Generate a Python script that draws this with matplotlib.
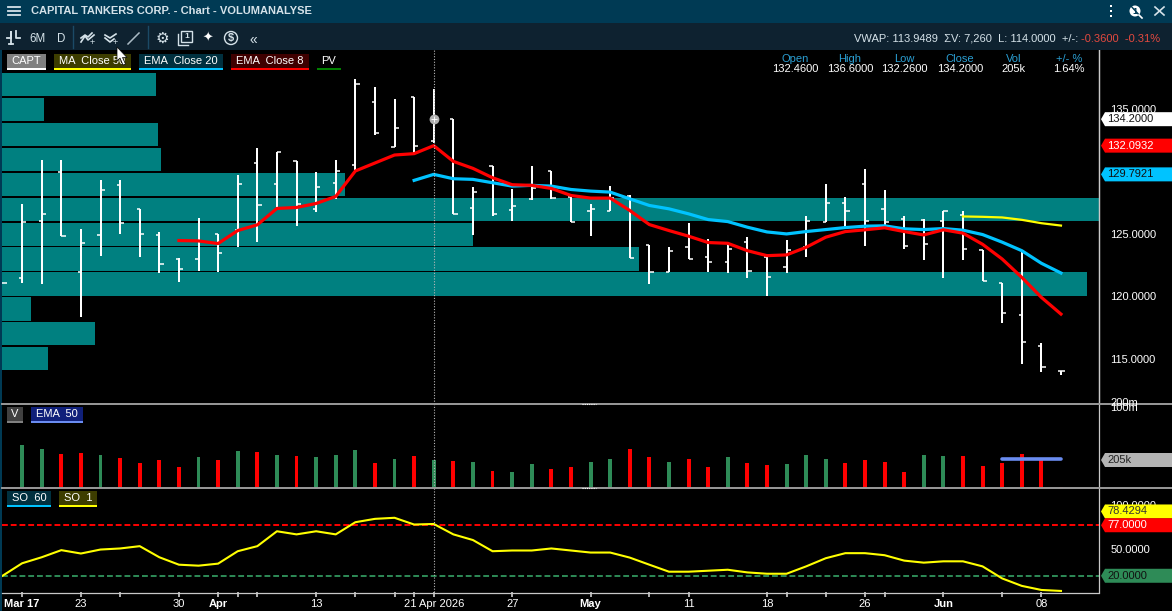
import matplotlib
matplotlib.use("Agg")
import matplotlib.pyplot as plt
from matplotlib.patches import Polygon, Rectangle, Circle

plt.rcParams['font.family'] = ['Liberation Sans', 'DejaVu Sans']

W, H = 1172, 611

# daily bars, index 0 = Mar 16 2026
opens = [121.05, 121.50, 126.08, 129.96, 121.99, 124.96, 128.89, 126.97, 124.96, 123.03,
         123.03, 124.98, 125.31, 130.66, 128.97, 130.85, 126.97, 129.05, 130.50, 135.56,
         132.00, 135.99, 132.46, 134.22, 127.05, 130.45, 126.94, 127.77, 130.07, 127.96,
         126.83, 126.86, 128.01, 124.10, 121.96, 123.99, 123.19, 122.79, 124.37, 123.20,
         122.39, 124.00, 125.98, 127.45, 128.98, 126.97, 126.19, 126.16, 126.01, 126.49,
         123.73, 121.05, 118.54, 116.02, 114.04]
highs = [121.05, 127.42, 130.95, 130.95, 125.41, 129.35, 129.35, 126.97, 125.17, 123.06,
         126.30, 124.98, 129.75, 131.92, 131.60, 130.85, 129.99, 130.90, 137.38, 136.74,
         135.85, 135.99, 136.60, 134.22, 128.79, 130.45, 128.63, 130.47, 130.07, 127.96,
         127.42, 128.87, 128.14, 124.10, 123.97, 125.89, 124.61, 124.37, 124.77, 123.20,
         124.53, 126.46, 129.03, 127.99, 130.24, 128.55, 126.46, 126.19, 126.81, 126.86,
         123.73, 121.05, 123.73, 116.26, 114.07]
lows = [121.05, 121.05, 120.97, 124.85, 118.32, 123.22, 124.98, 123.14, 121.85, 121.13,
        122.01, 121.93, 123.94, 124.34, 127.15, 125.63, 126.75, 127.82, 130.10, 132.96,
        132.00, 131.52, 132.26, 126.62, 124.96, 126.43, 126.03, 127.74, 127.82, 125.95,
        124.88, 126.86, 123.06, 120.97, 121.93, 122.98, 121.99, 121.91, 121.50, 120.01,
        121.91, 123.20, 125.95, 125.55, 124.08, 125.69, 123.79, 122.96, 121.46, 122.96,
        121.24, 117.90, 114.63, 113.99, 113.75]
closes = [121.05, 126.00, 126.64, 124.88, 124.32, 128.49, 125.92, 125.04, 122.63, 122.23,
          124.48, 123.51, 128.97, 127.29, 131.57, 127.37, 128.73, 130.02, 137.01, 133.07,
          133.47, 132.03, 134.20, 126.62, 128.33, 126.62, 127.21, 128.65, 127.85, 125.98,
          126.99, 127.88, 123.08, 121.99, 123.67, 123.01, 122.79, 123.83, 122.01, 121.59,
          123.76, 126.03, 127.48, 126.81, 126.01, 125.93, 124.08, 124.24, 126.81, 123.81,
          121.25, 118.70, 116.37, 114.36, 114.00]

ema8_start = 9
ema8 = [124.48, 124.45, 124.24, 125.28, 125.74, 127.05, 127.13, 127.45, 128.01, 130.05,
        130.69, 131.33, 131.44, 132.08, 130.82, 130.26, 129.51, 128.95, 128.90, 128.65,
        128.09, 127.88, 127.88, 126.89, 125.76, 125.28, 124.83, 124.32, 124.26, 123.67,
        123.27, 123.33, 123.94, 124.75, 125.20, 125.34, 125.50, 125.20, 124.93, 125.34,
        125.07, 124.18, 123.00, 121.53, 119.93, 118.59]
ema20_start = 21
ema20 = [129.30, 129.78, 129.43, 129.38, 129.11, 128.84, 128.90, 128.84, 128.57, 128.44,
         128.36, 127.82, 127.29, 127.02, 126.62, 126.16, 126.00, 125.55, 125.17, 125.01,
         125.20, 125.36, 125.52, 125.63, 125.66, 125.42, 125.36, 125.44, 125.31, 124.96,
         124.35, 123.67, 122.66, 121.88]
ma50_start = 49
ma50 = [126.41, 126.38, 126.33, 126.14, 125.87, 125.68]

profile_prices = [137, 135, 133, 131, 129, 127, 125, 123, 121, 119, 117, 115]
profile_volume = [154, 42, 156, 159, 343, 1097, 471, 637, 1085, 29, 93, 46]

# volume in thousands, volume colours by bar
volume = [0, 315, 285, 249, 256, 242, 220, 183, 205, 154,
          227, 205, 271, 264, 242, 234, 227, 242, 278, 183,
          212, 234, 205, 198, 190, 124, 117, 176, 139, 154,
          190, 212, 285, 227, 190, 212, 154, 227, 183, 168,
          176, 242, 212, 183, 205, 190, 117, 242, 234, 234,
          161, 183, 249, 212, 7.26]
volume_up = [0, 1, 1, 0, 0, 1, 0, 0, 0, 0,
             1, 0, 1, 0, 1, 0, 1, 1, 1, 0,
             1, 0, 1, 0, 1, 0, 1, 1, 0, 0,
             1, 1, 0, 0, 1, 0, 0, 1, 0, 0,
             1, 1, 1, 0, 0, 0, 0, 1, 1, 0,
             0, 0, 0, 0, 0]
vol_ema_start = 51
vol_ema = [212, 212, 212, 212]

so1 = [20.0, 34.1, 40.9, 48.9, 45.1, 49.6, 50.8, 53.4, 40.9, 32.5,
       31.4, 33.7, 47.7, 53.4, 70.2, 66.7, 70.2, 66.7, 80.4, 84.2,
       85.4, 77.8, 78.43, 66.7, 60.3, 47.7, 48.5, 48.5, 50.8, 48.5,
       46.2, 46.2, 40.5, 32.5, 24.6, 24.6, 25.7, 26.8, 23.8, 22.3,
       22.3, 30.6, 39.8, 45.5, 45.5, 43.2, 37.1, 34.8, 36.3, 36.3,
       30.6, 17.0, 8.6, 4.0, 2.9]
so_upper = 77
so_lower = 20

price_ticks = [115, 120, 125, 130, 135]
so_ticks = [50, 100]
date_ticks = [1, 4, 9, 11, 16, 22, 26, 30, 35, 39, 44, 48, 53]
date_labels = ['Mar 17', '23', '30', 'Apr', '13', '21 Apr 2026', '27', 'May', '11', '18', '26', 'Jun', '08']
month_labels = ['Mar 17', 'Apr', 'May', 'Jun']
minor_white = [12]
minor_blue = [6, 13, 18, 20, 21, 33, 40, 42, 45, 51]
blue_labelled = [44, 48, 53]
hover_idx = 22

BG_TOP = '#003a54'
BG_TOOL = '#0e2230'
TEAL = '#008080'
GREEN = '#2e8b57'
CYAN = '#00c3ff'
TAB_BLUE = '#2b9fd3'
LINE_GREY = '#9a9a9a'
TEXT_LIGHT = '#d5e2e9'


def panel(fig, top, bottom, left=2, right=1099):
  rect = [left / W, 1 - bottom / H, (right - left) / W, (bottom - top) / H]
  ax = fig.add_axes(rect)
  ax.set_xlim(-0.026, 55.94)
  for side in ['top', 'left', 'bottom']:
    ax.spines[side].set_visible(False)
  ax.spines['right'].set_color('#c8c8c8')
  ax.spines['right'].set_linewidth(0.9)
  ax.set_xticks([])
  ax.set_facecolor('black')
  ax.yaxis.tick_right()
  ax.tick_params(axis='y', length=0, pad=8, labelcolor='white', labelsize=8)
  return ax


def tab(ui, x0, x1, y0, y1, label, fill, underline, color='white'):
  ui.add_patch(Rectangle((x0, y0), x1 - x0, y1 - y0, fc=fill, ec='none'))
  ui.add_patch(Rectangle((x0, y1 - 2), x1 - x0, 2, fc=underline, ec='none'))
  ui.text((x0 + x1) / 2, (y0 + y1) / 2 - 1, label, color=color, fontsize=8, ha='center', va='center')


def price_tag(ui, y, label, fill, color):
  pts = [(1101, y), (1105, y - 7), (1172, y - 7), (1172, y + 7), (1105, y + 7)]
  ui.add_patch(Polygon(pts, closed=True, fc=fill, ec='none', zorder=5))
  ui.text(1107, y, label, color=color, fontsize=8, va='center', zorder=6)


def pixel_y(ax, value):
  return H - ax.transData.transform((0, value))[1]


def draw_chrome(ui):
  ui.add_patch(Rectangle((0, 0), W, 23, fc=BG_TOP, ec='none'))
  ui.add_patch(Rectangle((0, 23), W, 27, fc=BG_TOOL, ec='none'))
  ui.add_patch(Rectangle((0, 50), 2, H - 50, fc=BG_TOP, ec='none'))
  for y in [7, 11, 15]:
    ui.plot([8, 20], [y, y], color=TEXT_LIGHT, lw=1.3)
  ui.text(31, 10.5, 'CAPITAL TANKERS CORP. - Chart - VOLUMANALYSE', color=TEXT_LIGHT,
          fontsize=8.0, fontweight='bold', va='center')
  # right hand window icons
  for y in [6, 11, 16]:
    ui.add_patch(Rectangle((1110, y - 1), 2, 2, fc='white', ec='none'))
  ui.add_patch(Circle((1135, 11), 5.5, fc='white', ec='none'))
  ui.text(1135, 11, '1', color=BG_TOP, fontsize=6.5, fontweight='bold', ha='center', va='center')
  ui.plot([1130, 1141], [5, 17], color=BG_TOP, lw=1)
  ui.plot([1139, 1142], [15, 18], color='white', lw=1.2)
  ui.plot([1155, 1164], [7, 15], color=TEXT_LIGHT, lw=1.2)
  ui.plot([1155, 1164], [15, 7], color=TEXT_LIGHT, lw=1.2)

  # toolbar
  ui.plot([72.5, 72.5], [26, 48], color='#1b4a66', lw=1)
  ui.plot([147.5, 147.5], [26, 48], color='#1b4a66', lw=1)
  ui.plot([7, 11, 11, 11], [38, 38, 32, 44], color=TEXT_LIGHT, lw=1.3)
  ui.plot([16, 16, 20], [31, 38, 38], color=TEXT_LIGHT, lw=1.3)
  ui.plot([9, 13], [44, 44], color=TEXT_LIGHT, lw=1.3)
  ui.text(38, 38.5, '6M', color=TEXT_LIGHT, fontsize=8.3, ha='center', va='center')
  ui.text(61, 38.5, 'D', color=TEXT_LIGHT, fontsize=8.3, ha='center', va='center')
  ui.plot([81, 85, 88, 94], [42, 36, 40, 35], color=TEXT_LIGHT, lw=1.2)
  ui.plot([81, 85, 88, 92], [38, 35, 37, 33], color=TEXT_LIGHT, lw=1.2)
  ui.text(92, 43, '+', color=TEXT_LIGHT, fontsize=6.5, ha='center', va='center')
  ui.plot([105, 110, 116], [35, 38, 34], color=TEXT_LIGHT, lw=1.2)
  ui.plot([105, 110, 114], [38, 42, 39], color=TEXT_LIGHT, lw=1.2)
  ui.text(115, 43, '+', color=TEXT_LIGHT, fontsize=6.5, ha='center', va='center')
  ui.plot([128, 139], [44, 33], color='#a9bac4', lw=1.1)
  ui.text(162, 38, '\u2699', color=TEXT_LIGHT, fontsize=11, family='DejaVu Sans', ha='center', va='center')
  ui.add_patch(Rectangle((181, 31), 11, 11, fc='none', ec=TEXT_LIGHT, lw=1))
  ui.plot([178, 178, 188], [34, 45, 45], color=TEXT_LIGHT, lw=1)
  ui.text(186.5, 36.5, '1', color=TEXT_LIGHT, fontsize=6, fontweight='bold', ha='center', va='center')
  ui.text(208, 38, '\u2726', color='white', fontsize=9, family='DejaVu Sans', ha='center', va='center')
  ui.add_patch(Circle((231, 38), 6.5, fc='none', ec=TEXT_LIGHT, lw=1))
  ui.text(231, 38, '$', color=TEXT_LIGHT, fontsize=8, fontweight='bold', ha='center', va='center')
  ui.text(253, 40, '\u00ab', color=TEXT_LIGHT, fontsize=10, ha='center', va='center')

  ui.text(1078, 38.5, 'VWAP: 113.9489  \u03a3V: 7,260  L: 114.0000  +/-:', color=TEXT_LIGHT,
          fontsize=8, ha='right', va='center')
  ui.text(1081, 38.5, '-0.3600  -0.31%', color='#e5493f', fontsize=8, va='center')

  # hovered bar values
  names = ['Open', 'High', 'Low', 'Close', 'Vol', '+/- %']
  values = ['%.4f' % opens[hover_idx], '%.4f' % highs[hover_idx], '%.4f' % lows[hover_idx],
            '%.4f' % closes[hover_idx], '205k', '1.64%']
  centers = [795, 850, 904, 960, 1014, 1069]
  for cx, name, value in zip(centers, names, values):
    ui.text(cx, 59, name, color=TAB_BLUE, fontsize=8, ha='center', va='center')
    ui.text(cx, 69.5, value, color='white', fontsize=8, ha='center', va='center')

  tab(ui, 7, 46, 54, 70, 'CAPT', '#808080', 'white')
  tab(ui, 54, 131, 54, 70, 'MA  Close 50', '#3d3d00', '#ffff00')
  tab(ui, 139, 223, 54, 70, 'EMA  Close 20', '#00303f', CYAN)
  tab(ui, 231, 309, 54, 70, 'EMA  Close 8', '#3f0000', '#ff0000')
  tab(ui, 317, 341, 54, 70, 'PV', '#000000', '#008000')
  tab(ui, 7, 23, 407, 423, 'V', '#404040', '#808080')
  tab(ui, 31, 83, 407, 423, 'EMA  50', '#10207a', '#6a8cf0')
  tab(ui, 7, 51, 491, 507, 'SO  60', '#00303f', CYAN)
  tab(ui, 59, 97, 491, 507, 'SO  1', '#3d3d00', '#ffff00')

  # panel dividers and their drag grips
  ui.plot([2, W], [404, 404], color=LINE_GREY, lw=1.4)
  ui.plot([2, W], [488, 488], color=LINE_GREY, lw=1.4)
  for y in [403.5, 488]:
    ui.plot([582, 596], [y, y], color='white', lw=0.8, ls=(0, (1, 1)))
  ui.plot([2, 1099], [592.5, 592.5], color='#c8c8c8', lw=0.9)

  ui.text(1110, 403, '200m', color='white', fontsize=8, va='center')
  ui.text(1110, 408, '100m', color='white', fontsize=8, va='center')

  # mouse pointer
  ui.add_patch(Polygon([(117, 47), (117, 61), (120, 58), (123, 65), (125.5, 64), (122.5, 57.5), (127, 57.5)],
                       closed=True, fc='white', ec='black', lw=0.5, zorder=8))


def main():
  fig = plt.figure(figsize=(W / 100, H / 100), dpi=100, facecolor='black')

  # volume profile lies under the bars on its own x scale
  ax_vp = panel(fig, 50, 404)
  ax_price = panel(fig, 50, 404)
  ax_vol = panel(fig, 404, 488)
  ax_so = panel(fig, 488, 592)
  ax_price.patch.set_visible(False)
  ax_vp.set_yticks([])
  ax_vp.set_xlim(0, 1097)
  ax_vp.set_ylim(111.39, 139.74)
  ax_vp.barh(profile_prices, profile_volume, height=1.85, color=TEAL, linewidth=0)

  idx = list(range(len(closes)))
  ax_price.set_ylim(111.39, 139.74)
  ax_price.set_yticks(price_ticks, ['%.4f' % p for p in price_ticks])
  ax_price.vlines(idx, lows, highs, color='white', lw=1.44)
  ax_price.hlines(opens, [i - 0.16 for i in idx], idx, color='white', lw=1.1)
  ax_price.hlines(closes, idx, [i + 0.22 for i in idx], color='white', lw=1.1)
  ax_price.plot(range(ma50_start, ma50_start + len(ma50)), ma50, color='#ffff00', lw=1.6)
  ax_price.plot(range(ema20_start, ema20_start + len(ema20)), ema20, color=CYAN, lw=2.3)
  ax_price.plot(range(ema8_start, ema8_start + len(ema8)), ema8, color='#ff0000', lw=2.3)
  ax_price.scatter([hover_idx], [closes[hover_idx]], s=50, color='#b0b0b0', zorder=6, linewidths=0)
  ax_price.scatter([hover_idx], [closes[hover_idx]], s=22, color='white', marker='+', lw=0.6, zorder=7)

  ax_vol.set_ylim(0, 615)
  ax_vol.set_yticks([])
  colors = [GREEN if up else '#ff0000' for up in volume_up]
  ax_vol.bar(idx, volume, width=0.2, color=colors, linewidth=0)
  ax_vol.plot(range(vol_ema_start, vol_ema_start + len(vol_ema)), vol_ema, color='#6a8cf0', lw=2.6,
              solid_capstyle='round')

  ax_so.set_ylim(1.7, 119)
  ax_so.set_yticks(so_ticks, ['%.4f' % s for s in so_ticks])
  ax_so.axhline(so_upper, color='#ff0000', lw=1.4, ls=(0, (3, 1.5)))
  ax_so.axhline(so_lower, color=GREEN, lw=1.4, ls=(0, (3, 1.5)))
  ax_so.plot(idx, so1, color='#ffff00', lw=1.5)

  for ax in [ax_price, ax_vol, ax_so]:
    ax.axvline(hover_idx, color='#b8b8b8', lw=0.8, ls=(0, (1, 1.5)), zorder=5)

  # date axis under the oscillator
  ax_so.set_xticks(date_ticks, date_labels)
  ax_so.set_xticks(minor_white + minor_blue, minor=True)
  ax_so.tick_params(axis='x', which='both', length=3.6, width=1.2, color='#d0d0d0', pad=1.2,
                    labelcolor='white', labelsize=8)
  for tick, pos, label in zip(ax_so.xaxis.get_major_ticks(), date_ticks, date_labels):
    if pos in blue_labelled:
      tick.tick1line.set_color('#6cc4f5')
    if label in month_labels:
      tick.label1.set_fontweight('bold')
  for tick, pos in zip(ax_so.xaxis.get_minor_ticks(), minor_white + minor_blue):
    tick.tick1line.set_color('#6cc4f5' if pos in minor_blue else '#d0d0d0')

  ui = fig.add_axes([0, 0, 1, 1], zorder=10)
  ui.set_xlim(0, W)
  ui.set_ylim(H, 0)
  ui.axis('off')
  ui.patch.set_visible(False)
  draw_chrome(ui)

  fig.canvas.draw()
  price_tag(ui, pixel_y(ax_price, closes[hover_idx]), '134.2000', 'white', '#111111')
  price_tag(ui, pixel_y(ax_price, ema8[hover_idx - ema8_start]), '132.0932', '#ff0000', 'white')
  price_tag(ui, pixel_y(ax_price, ema20[hover_idx - ema20_start]), '129.7921', CYAN, '#111111')
  price_tag(ui, pixel_y(ax_vol, volume[hover_idx]), '205k', '#b4b4b4', '#222222')
  price_tag(ui, pixel_y(ax_so, so1[hover_idx]) - 12.5, '78.4294', '#ffff00', '#333333')
  price_tag(ui, pixel_y(ax_so, so_upper), '77.0000', '#ff0000', 'white')
  price_tag(ui, pixel_y(ax_so, so_lower), '20.0000', GREEN, '#111111')

  fig.savefig('out.png', dpi=100, facecolor='black')


if __name__ == "__main__":
  main()
